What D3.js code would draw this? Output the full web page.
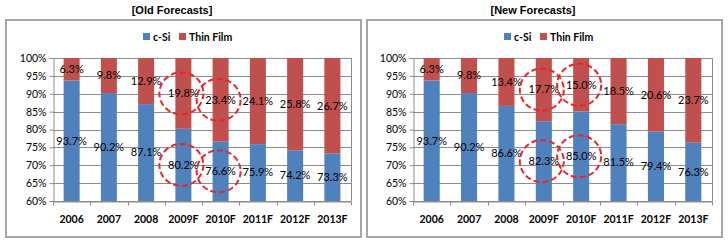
<!DOCTYPE html>
<meta charset="utf-8">
<style>
body { margin: 0; background: #fff; }
svg { font-family: "Liberation Sans", Arial, sans-serif; }
.lbl { font-family: Lato, "Open Sans", sans-serif; font-size: 11px; fill: #000; }
.tick text { font-family: Lato, sans-serif; font-size: 10.5px; fill: #000; }
.xaxis .tick text { font-weight: bold; }
.box { fill: #fff; stroke: #a6a6a6; stroke-width: 2; }
.grid line { stroke: #8c8c8c; stroke-width: 1; shape-rendering: crispEdges; }
.ring { fill: none; stroke: #e8262a; stroke-width: 2; stroke-dasharray: 6,3; }
</style>
<body>
<script src="https://cdn.jsdelivr.net/npm/d3@7"></script>
<script>

var years = ["2006", "2007", "2008", "2009F", "2010F", "2011F", "2012F", "2013F"];
var oldCsi = [93.7, 90.2, 87.1, 80.2, 76.6, 75.9, 74.2, 73.3];
var oldThin = [6.3, 9.8, 12.9, 19.8, 23.4, 24.1, 25.8, 26.7];
var newCsi = [93.7, 90.2, 86.6, 82.3, 85.0, 81.5, 79.4, 76.3];
var newThin = [6.3, 9.8, 13.4, 17.7, 15.0, 18.5, 20.6, 23.7];
var yTicks = [60, 65, 70, 75, 80, 85, 90, 95, 100];
var circled = ["2009F", "2010F"];

var blue = "#4f81bd", red = "#c0504d";

var svg = d3.select("body").append("svg")
    .attr("width", 728)
    .attr("height", 240);

drawPanel(0, "[Old Forecasts]", oldCsi, oldThin, 53, 351);
drawPanel(361, "[New Forecasts]", newCsi, newThin, 52, 351);

function drawPanel(ox, title, csi, thin, left, right) {
  var g = svg.append("g").attr("transform", "translate(" + ox + ",0)");

  g.append("rect").attr("class", "box")
      .attr("x", 6).attr("y", 20).attr("width", 355).attr("height", 217);

  g.append("text")
      .attr("x", 172).attr("y", 14)
      .attr("text-anchor", "middle")
      .style("font-weight", "bold").style("font-size", "11px")
      .text(title);

  // legend
  var leg = g.append("g").attr("transform", "translate(0,37)");
  leg.append("rect").attr("x", 143).attr("y", -4).attr("width", 7).attr("height", 7).attr("fill", blue);
  leg.append("text").attr("class", "lbl").attr("x", 153).attr("y", 4).style("font-size", "10.5px").style("font-weight", "bold").text("c-Si");
  leg.append("rect").attr("x", 179).attr("y", -4).attr("width", 7).attr("height", 7).attr("fill", red);
  leg.append("text").attr("class", "lbl").attr("x", 189).attr("y", 4).style("font-size", "10.5px").style("font-weight", "bold").text("Thin Film");

  var x = d3.scaleBand().domain(years).range([left, right]).paddingInner(0.57).paddingOuter(0.285);
  var xb = d3.scaleBand().domain(years).range([left, right]);
  var y = d3.scaleLinear().domain([60, 100]).range([201, 58]);

  g.append("g").attr("class", "grid")
    .selectAll("line").data(yTicks).enter().append("line")
      .attr("x1", left).attr("x2", right)
      .attr("y1", function(d) { return Math.round(y(d)) + 0.5; })
      .attr("y2", function(d) { return Math.round(y(d)) + 0.5; });

  g.append("line")
      .attr("x1", right + 0.5).attr("x2", right + 0.5)
      .attr("y1", y(100)).attr("y2", y(60))
      .attr("stroke", "#8c8c8c");

  var rows = years.map(function(d, i) { return {year: d, csi: csi[i], thin: thin[i]}; });

  g.selectAll(".csi").data(rows).enter().append("rect")
      .attr("x", function(d) { return x(d.year); })
      .attr("width", x.bandwidth())
      .attr("y", function(d) { return y(d.csi); })
      .attr("height", function(d) { return y(60) - y(d.csi); })
      .attr("fill", blue);

  g.selectAll(".thin").data(rows).enter().append("rect")
      .attr("x", function(d) { return x(d.year); })
      .attr("width", x.bandwidth())
      .attr("y", y(100))
      .attr("height", function(d) { return y(100 - d.thin) - y(100); })
      .attr("fill", red);

  var cx = function(d) { return x(d.year) + x.bandwidth() / 2; };
  var thinY = function(d) { return (y(100) + y(100 - d.thin)) / 2; };
  var csiY = function(d) { return (y(60) + y(d.csi)) / 2; };

  g.selectAll(".tl").data(rows).enter().append("text")
      .attr("class", "lbl")
      .attr("x", cx).attr("y", thinY).attr("dy", "0.35em")
      .attr("text-anchor", "middle")
      .text(function(d) { return d.thin.toFixed(1) + "%"; });

  g.selectAll(".cl").data(rows).enter().append("text")
      .attr("class", "lbl")
      .attr("x", cx).attr("y", csiY).attr("dy", "0.35em")
      .attr("text-anchor", "middle")
      .text(function(d) { return d.csi.toFixed(1) + "%"; });

  var hot = rows.filter(function(d) { return circled.indexOf(d.year) >= 0; });
  g.selectAll(".r1").data(hot).enter().append("ellipse")
      .attr("class", "ring")
      .attr("cx", function(d) { return cx(d) - 2; }).attr("cy", thinY)
      .attr("rx", 22).attr("ry", 21);
  g.selectAll(".r2").data(hot).enter().append("ellipse")
      .attr("class", "ring")
      .attr("cx", function(d) { return cx(d) - 2; }).attr("cy", csiY)
      .attr("rx", 22).attr("ry", 21);

  var yAxis = d3.axisLeft(y).tickValues(yTicks).tickSize(4)
      .tickFormat(function(d) { return d + "%"; });
  var ya = g.append("g").attr("transform", "translate(" + (left + 0.5) + ",0)").call(yAxis);
  ya.selectAll("path, line").attr("stroke", "#8c8c8c");
  ya.selectAll("text").attr("x", -7);

  var xAxis = d3.axisBottom(xb).tickSize(0).tickSizeOuter(0);
  var xa = g.append("g").attr("class", "xaxis")
      .attr("transform", "translate(0," + (Math.round(y(60)) + 0.5) + ")").call(xAxis);
  xa.select("path").attr("stroke", "#8c8c8c");
  xa.selectAll("text").attr("y", 14);
  xa.selectAll(".sep").data(years.concat(["end"])).enter().append("line")
      .attr("x1", function(d, i) { return Math.round(left + i * xb.step()) + 0.5; })
      .attr("x2", function(d, i) { return Math.round(left + i * xb.step()) + 0.5; })
      .attr("y1", 0).attr("y2", 4)
      .attr("stroke", "#8c8c8c");
}

</script>
